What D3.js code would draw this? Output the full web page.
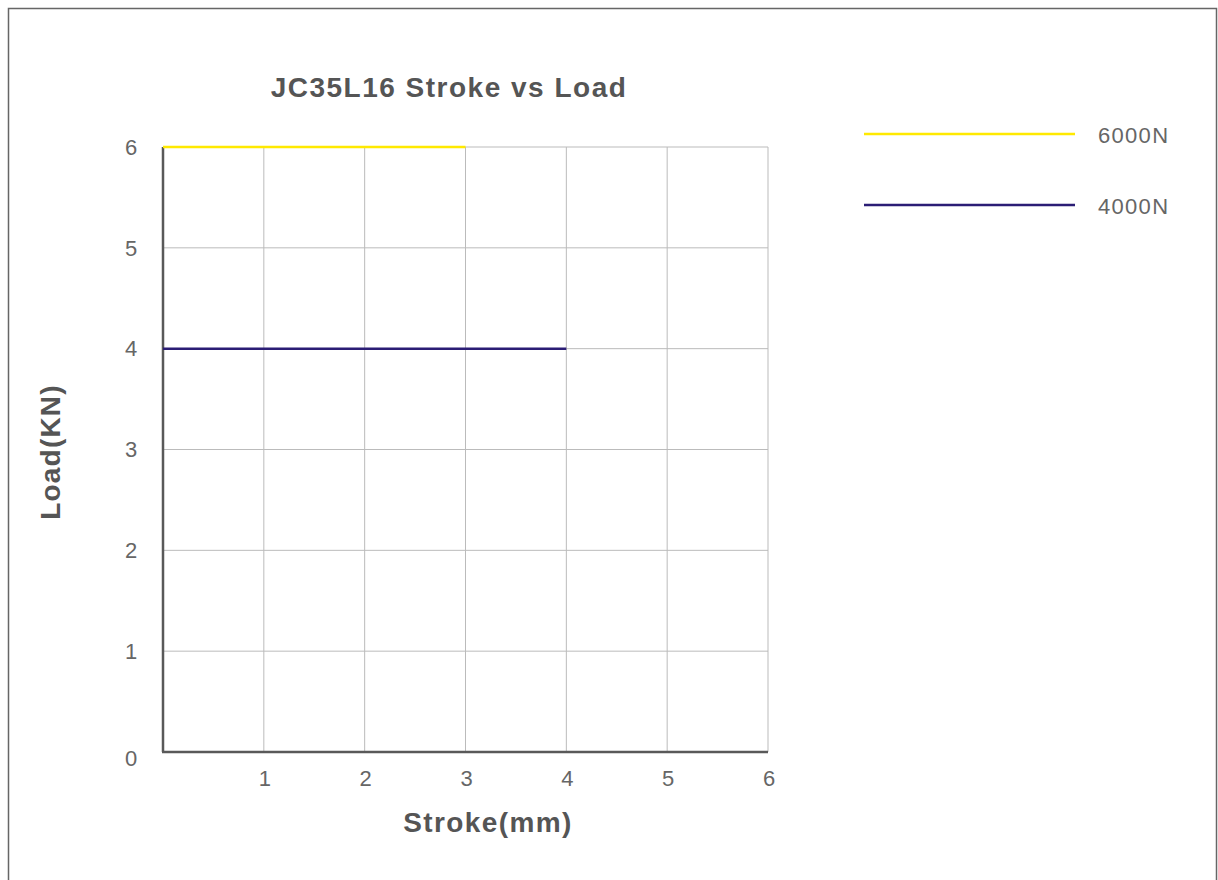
<!DOCTYPE html>
<html>
<head>
<meta charset="utf-8">
<script src="https://cdn.jsdelivr.net/npm/d3@7"></script>
<style>
  body { margin: 0; background: #fff; }
  svg text { font-family: "Liberation Sans", Arial, sans-serif; }
</style>
</head>
<body>
<div id="chart"></div>
<script>
// Chart data
const seriesNames = ["6000N", "4000N"];
const seriesColors = ["#ffe900", "#2b1d75"];
// each series: stroke (mm) vs load (KN)
const strokeValues = [[0, 3], [0, 4]];
const loadValues = [[6, 6], [4, 4]];
const xTicks = [1, 2, 3, 4, 5, 6];
const yTicks = [0, 1, 2, 3, 4, 5, 6];

const width = 1218;
const height = 880;
const margin = { left: 163, top: 147, right: 450, bottom: 128 };

const svg = d3.select("#chart").append("svg")
    .attr("width", width)
    .attr("height", height);

// outer frame
svg.append("rect")
    .attr("x", 8.5).attr("y", 8.5)
    .attr("width", 1208).attr("height", 900)
    .attr("fill", "none")
    .attr("stroke", "#666")
    .attr("stroke-width", 1.5);

const x = d3.scaleLinear().domain([0, 6]).range([margin.left, 768]);
const y = d3.scaleLinear().domain([0, 6]).range([height - margin.bottom, margin.top]);

// grid
svg.append("g")
    .selectAll("line")
    .data(xTicks)
    .enter().append("line")
    .attr("x1", d => x(d)).attr("x2", d => x(d))
    .attr("y1", y(0)).attr("y2", y(6))
    .attr("stroke", "#bbb").attr("stroke-width", 1);

svg.append("g")
    .selectAll("line")
    .data(yTicks.filter(d => d > 0))
    .enter().append("line")
    .attr("x1", x(0)).attr("x2", x(6))
    .attr("y1", d => y(d)).attr("y2", d => y(d))
    .attr("stroke", "#bbb").attr("stroke-width", 1);

// axes lines
svg.append("line")
    .attr("x1", x(0)).attr("x2", x(0))
    .attr("y1", y(0)).attr("y2", y(6))
    .attr("stroke", "#595959").attr("stroke-width", 2.5);
svg.append("line")
    .attr("x1", x(0) - 1).attr("x2", x(6))
    .attr("y1", y(0)).attr("y2", y(0))
    .attr("stroke", "#595959").attr("stroke-width", 2.5);

// tick labels
svg.append("g")
    .selectAll("text")
    .data(yTicks)
    .enter().append("text")
    .attr("x", 131)
    .attr("y", d => d === 0 ? y(d) + 6 : y(d))
    .attr("dy", "0.35em")
    .attr("text-anchor", "middle")
    .attr("font-size", 22)
    .attr("fill", "#666")
    .text(d => d);

svg.append("g")
    .selectAll("text")
    .data(xTicks)
    .enter().append("text")
    .attr("x", d => x(d) + 1)
    .attr("y", y(0) + 26)
    .attr("dy", "0.35em")
    .attr("text-anchor", "middle")
    .attr("font-size", 22)
    .attr("fill", "#666")
    .text(d => d);

// series lines
const line = d3.line().x(d => x(d[0])).y(d => y(d[1]));
seriesNames.forEach((name, i) => {
    const pts = strokeValues[i].map((s, j) => [s, loadValues[i][j]]);
    svg.append("path")
        .attr("d", line(pts))
        .attr("fill", "none")
        .attr("stroke", seriesColors[i])
        .attr("stroke-width", 2.5);
});

// titles
svg.append("text")
    .attr("x", 449).attr("y", 87)
    .attr("dy", "0.35em")
    .attr("text-anchor", "middle")
    .attr("font-size", 28)
    .attr("font-weight", "bold")
    .attr("letter-spacing", 1.5)
    .attr("fill", "#555")
    .text("JC35L16 Stroke vs Load");

svg.append("text")
    .attr("x", 488).attr("y", 822)
    .attr("dy", "0.35em")
    .attr("text-anchor", "middle")
    .attr("font-size", 28)
    .attr("font-weight", "bold")
    .attr("letter-spacing", 1.4)
    .attr("fill", "#555")
    .text("Stroke(mm)");

svg.append("text")
    .attr("transform", "translate(50,452) rotate(-90)")
    .attr("dy", "0.35em")
    .attr("text-anchor", "middle")
    .attr("font-size", 28)
    .attr("font-weight", "bold")
    .attr("letter-spacing", 1.2)
    .attr("fill", "#555")
    .text("Load(KN)");

// legend
const legend = svg.append("g")
    .selectAll("g")
    .data(seriesNames)
    .enter().append("g")
    .attr("transform", (d, i) => `translate(864,${134 + i * 71})`);

legend.append("line")
    .attr("x1", 0).attr("x2", 211)
    .attr("stroke", (d, i) => seriesColors[i])
    .attr("stroke-width", 2.5);

legend.append("text")
    .attr("x", 234).attr("y", 1)
    .attr("dy", "0.35em")
    .attr("font-size", 22)
    .attr("letter-spacing", 1.3)
    .attr("fill", "#666")
    .text(d => d);
</script>
</body>
</html>
